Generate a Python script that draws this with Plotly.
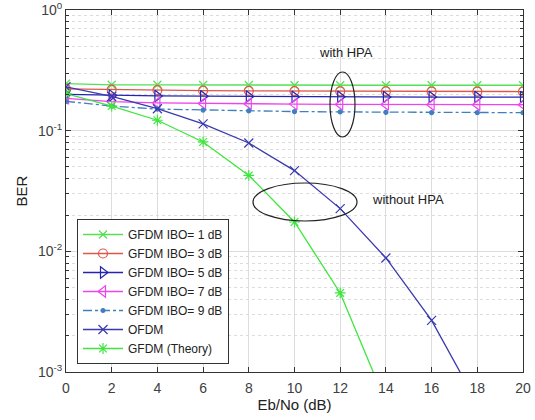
import plotly.graph_objects as go

# Eb/No grid (dB)
ebno = [0, 2, 4, 6, 8, 10, 12, 14, 16, 18, 20]

# BER with HPA, per input back-off
ber_ibo1 = [0.245, 0.240, 0.240, 0.239, 0.239, 0.238, 0.238, 0.238, 0.238, 0.238, 0.238]
ber_ibo3 = [0.222, 0.219, 0.217, 0.215, 0.214, 0.213, 0.212, 0.212, 0.211, 0.211, 0.211]
ber_ibo5 = [0.200, 0.196, 0.194, 0.193, 0.192, 0.191, 0.191, 0.190, 0.190, 0.190, 0.190]
ber_ibo7 = [0.185, 0.174, 0.170, 0.168, 0.167, 0.166, 0.165, 0.165, 0.164, 0.164, 0.164]
ber_ibo9 = [0.175, 0.160, 0.151, 0.148, 0.146, 0.144, 0.143, 0.142, 0.141, 0.141, 0.141]

# BER without HPA
ebno_ofdm = [0, 2, 4, 6, 8, 10, 12, 14, 16, 18]
ber_ofdm = [0.231, 0.192, 0.152, 0.114, 0.079, 0.0467, 0.0226, 0.00881, 0.00268, 0.00055]
ebno_theory = [0, 2, 4, 6, 8, 10, 12, 14]
ber_theory = [0.203, 0.160, 0.122, 0.0806, 0.0426, 0.0175, 0.00452, 0.00056]

x_ticks = [0, 2, 4, 6, 8, 10, 12, 14, 16, 18, 20]
y_ticks = [1e-3, 1e-2, 1e-1, 1]
y_ticktext = ["10<sup>-3</sup>", "10<sup>-2</sup>", "10<sup>-1</sup>", "10<sup>0</sup>"]
y_minor = [m * d for d in (1e-3, 1e-2, 1e-1) for m in range(2, 10)]

series = [
    dict(x=ebno, y=ber_ibo1, name="GFDM IBO= 1 dB", color="#55e055", dash="solid",
         symbol="x-thin-open", size=8),
    dict(x=ebno, y=ber_ibo3, name="GFDM IBO= 3 dB", color="#e0564a", dash="solid",
         symbol="circle-open", size=9),
    dict(x=ebno, y=ber_ibo5, name="GFDM IBO= 5 dB", color="#2424b0", dash="solid",
         symbol="triangle-right-open", size=10),
    dict(x=ebno, y=ber_ibo7, name="GFDM IBO= 7 dB", color="#ee44ee", dash="solid",
         symbol="triangle-left-open", size=10),
    dict(x=ebno, y=ber_ibo9, name="GFDM IBO= 9 dB", color="#3f7fbf", dash="dashdot",
         symbol="circle", size=4),
    dict(x=ebno_ofdm, y=ber_ofdm, name="OFDM", color="#3a3aae", dash="solid",
         symbol="x-thin-open", size=9),
    dict(x=ebno_theory, y=ber_theory, name="GFDM (Theory)", color="#3ee63e", dash="solid",
         symbol="asterisk-open", size=9),
]

fig = go.Figure()
for s in series:
    fig.add_trace(go.Scatter(
        x=s["x"], y=s["y"], name=s["name"], mode="lines+markers",
        line=dict(color=s["color"], width=1.3, dash=s["dash"]),
        marker=dict(symbol=s["symbol"], size=s["size"], color=s["color"],
                    line=dict(color=s["color"], width=1.2)),
        cliponaxis=True,
    ))

# Plot-area geometry in pixels (used to place the callout ellipses)
W, H = 535, 420
L, R, T, B = 66, 12, 10, 48
pw, ph = W - L - R, H - T - B


def px_x(p):
    return (p - L) / pw


def px_y(p):
    return 1 - (p - T) / ph


# Ellipses grouping the curves
fig.add_shape(type="circle", xref="paper", yref="paper",
              x0=px_x(330), x1=px_x(355), y0=px_y(137), y1=px_y(72),
              line=dict(color="#222222", width=1.2))
fig.add_shape(type="circle", xref="paper", yref="paper",
              x0=px_x(253), x1=px_x(357), y0=px_y(221), y1=px_y(183),
              line=dict(color="#222222", width=1.2))

fig.add_annotation(x=px_x(346), y=px_y(53), xref="paper", yref="paper",
                   xanchor="center", yanchor="middle",
                   text="with HPA", showarrow=False,
                   font=dict(size=13, color="#222222"))
fig.add_annotation(x=px_x(408), y=px_y(199), xref="paper", yref="paper",
                   xanchor="center", yanchor="middle",
                   text="without HPA", showarrow=False,
                   font=dict(size=13, color="#222222"))

axis_common = dict(
    showline=True, linecolor="#333333", linewidth=1, mirror="allticks",
    ticks="inside", ticklen=5, tickcolor="#333333",
    showgrid=True, gridcolor="#dcdcdc", gridwidth=1,
    zeroline=False, tickfont=dict(size=14, color="#404040"),
    automargin=False,
)

fig.update_layout(
    width=W, height=H,
    margin=dict(l=L, r=R, t=T, b=B, autoexpand=False),
    paper_bgcolor="white", plot_bgcolor="white",
    font=dict(family="Liberation Sans, Arial, sans-serif", color="#222222"),
    xaxis=dict(
        range=[0, 20], tickmode="array", tickvals=x_ticks,
        ticklabelstandoff=3,
        title=dict(text="Eb/No (dB)", font=dict(size=15), standoff=4),
        **axis_common,
    ),
    yaxis=dict(
        type="log", range=[-3, 0], tickmode="array",
        tickvals=y_ticks, ticktext=y_ticktext,
        title=dict(text="BER", font=dict(size=15), standoff=6),
        minor=dict(tickmode="array", tickvals=y_minor,
                   ticks="inside", ticklen=3, tickcolor="#333333",
                   showgrid=True, gridcolor="#dcdcdc", griddash="dot"),
        **axis_common,
    ),
    legend=dict(
        x=px_x(77), y=px_y(364), xanchor="left", yanchor="bottom",
        bgcolor="white", bordercolor="#333333", borderwidth=1,
        font=dict(size=12, color="#222222"),
        tracegroupgap=0, itemwidth=40,
    ),
    showlegend=True,
)

fig.write_html("out.html")
